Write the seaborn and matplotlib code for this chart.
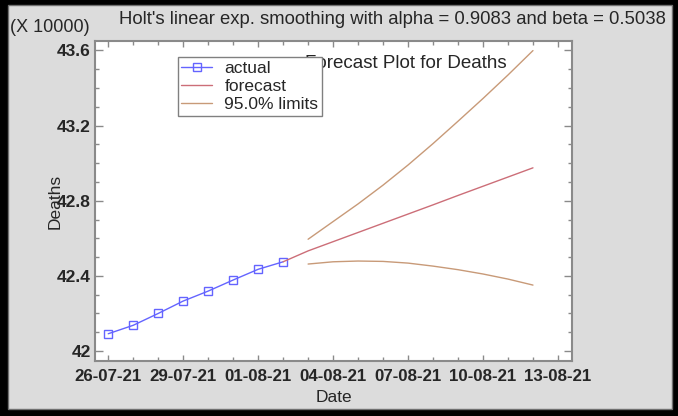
import numpy as np
import pandas as pd
import matplotlib
matplotlib.use("Agg")
import matplotlib.pyplot as plt
import matplotlib.dates as mdates
from matplotlib.patches import Rectangle
from matplotlib.ticker import FixedLocator, MultipleLocator, FuncFormatter
import seaborn as sns

# data (deaths, raw units)
actual_dates = pd.date_range("2021-07-26", "2021-08-02", freq="D")
actual_deaths = [420920, 421370, 422000, 422660, 423190, 423780, 424350, 424750]

fc_dates = pd.date_range("2021-08-02", "2021-08-12", freq="D")
fc_deaths = [424750, 425330, 425820, 426310, 426800, 427290, 427780, 428280, 428770, 429260, 429750]

lim_dates = pd.date_range("2021-08-03", "2021-08-12", freq="D")
upper_deaths = [425950, 426890, 427830, 428830, 429900, 431040, 432230, 433440, 434690, 435990]
lower_deaths = [424630, 424750, 424790, 424770, 424680, 424520, 424330, 424100, 423830, 423510]

tick_dates = ["2021-07-26", "2021-07-29", "2021-08-01", "2021-08-04",
              "2021-08-07", "2021-08-10", "2021-08-13"]
tick_labels = ["26-07-21", "29-07-21", "01-08-21", "04-08-21",
               "07-08-21", "10-08-21", "13-08-21"]
y_ticks = [420000, 424000, 428000, 432000, 436000]

c_actual = "#6464ff"
c_fc = "#cc6e78"
c_lim = "#c89a78"
grey = "#dcdcdc"
spine = "#8a8a8a"

sns.set_style("ticks")
plt.rcParams["font.family"] = ["Liberation Sans", "DejaVu Sans"]

df_act = pd.DataFrame({"Date": actual_dates, "Deaths": actual_deaths})
df_fc = pd.DataFrame({"Date": fc_dates, "Deaths": fc_deaths})
df_up = pd.DataFrame({"Date": lim_dates, "Deaths": upper_deaths})
df_lo = pd.DataFrame({"Date": lim_dates, "Deaths": lower_deaths})

fig = plt.figure(figsize=(6.78, 4.16), dpi=100)
fig.patch.set_facecolor("black")
fig.patches.append(Rectangle((8 / 678, 7 / 416), (672 - 8) / 678, (411 - 7) / 416,
                             transform=fig.transFigure, facecolor=grey,
                             edgecolor="#707070", lw=1, zorder=-1))

ax = fig.add_axes([95 / 678, 55 / 416, 477 / 678, 320 / 416])
ax.set_facecolor("white")

sns.lineplot(data=df_act, x="Date", y="Deaths", ax=ax, color=c_actual, lw=1,
             marker="s", markersize=6, markerfacecolor="none",
             markeredgecolor=c_actual, markeredgewidth=1, label="actual")
sns.lineplot(data=df_fc, x="Date", y="Deaths", ax=ax, color=c_fc, lw=1, label="forecast")
sns.lineplot(data=df_up, x="Date", y="Deaths", ax=ax, color=c_lim, lw=1, label="95.0% limits")
sns.lineplot(data=df_lo, x="Date", y="Deaths", ax=ax, color=c_lim, lw=1)

x0 = pd.Timestamp("2021-07-26") - pd.Timedelta(hours=12.7)
x1 = pd.Timestamp("2021-08-13") + pd.Timedelta(hours=13.5)
ax.set_xlim(x0, x1)
ax.set_ylim(419470, 436500)

ax.xaxis.set_major_locator(FixedLocator(mdates.date2num(pd.to_datetime(tick_dates))))
ax.set_xticklabels(tick_labels)
ax.xaxis.set_minor_locator(mdates.DayLocator())
ax.yaxis.set_major_locator(FixedLocator(y_ticks))
ax.yaxis.set_major_formatter(FuncFormatter(lambda v, p: f"{v / 10000:g}"))
ax.yaxis.set_minor_locator(MultipleLocator(1000))

for s in ax.spines.values():
    s.set_color(spine)
    s.set_linewidth(1.5)
ax.tick_params(which="both", direction="in", top=True, right=True, color=spine, width=1)
ax.tick_params(axis="y", which="major", length=6, labelsize=12.5, pad=3)
ax.tick_params(axis="y", which="minor", length=3)
ax.tick_params(axis="x", which="major", length=4, labelsize=12.2, pad=6)
ax.tick_params(axis="x", which="minor", length=3)
for lab in ax.get_xticklabels() + ax.get_yticklabels():
    lab.set_fontweight("bold")

ax.set_xlabel("Date", fontsize=12.5, labelpad=4)
ax.set_ylabel("Deaths", fontsize=12.5, labelpad=-4)

ax.text(0.44, 0.955, "Forecast Plot for Deaths", transform=ax.transAxes,
        fontsize=13.5, ha="left", va="top")

leg = ax.legend(loc="upper left", bbox_to_anchor=(0.173, 0.95), fontsize=12.5,
                frameon=True, fancybox=False, framealpha=1, edgecolor="#808080",
                handlelength=1.8, handletextpad=0.7, borderpad=0.2,
                labelspacing=0.18, borderaxespad=0)
leg.get_frame().set_linewidth(1)

fig.text(10 / 678, 1 - 27 / 416, "(X 10000)", fontsize=13, ha="left", va="center")
fig.text(666 / 678, 1 - 19 / 416,
         "Holt's linear exp. smoothing with alpha = 0.9083 and beta = 0.5038",
         fontsize=13.3, ha="right", va="center")

fig.savefig("out.png", dpi=100, facecolor=fig.get_facecolor())
